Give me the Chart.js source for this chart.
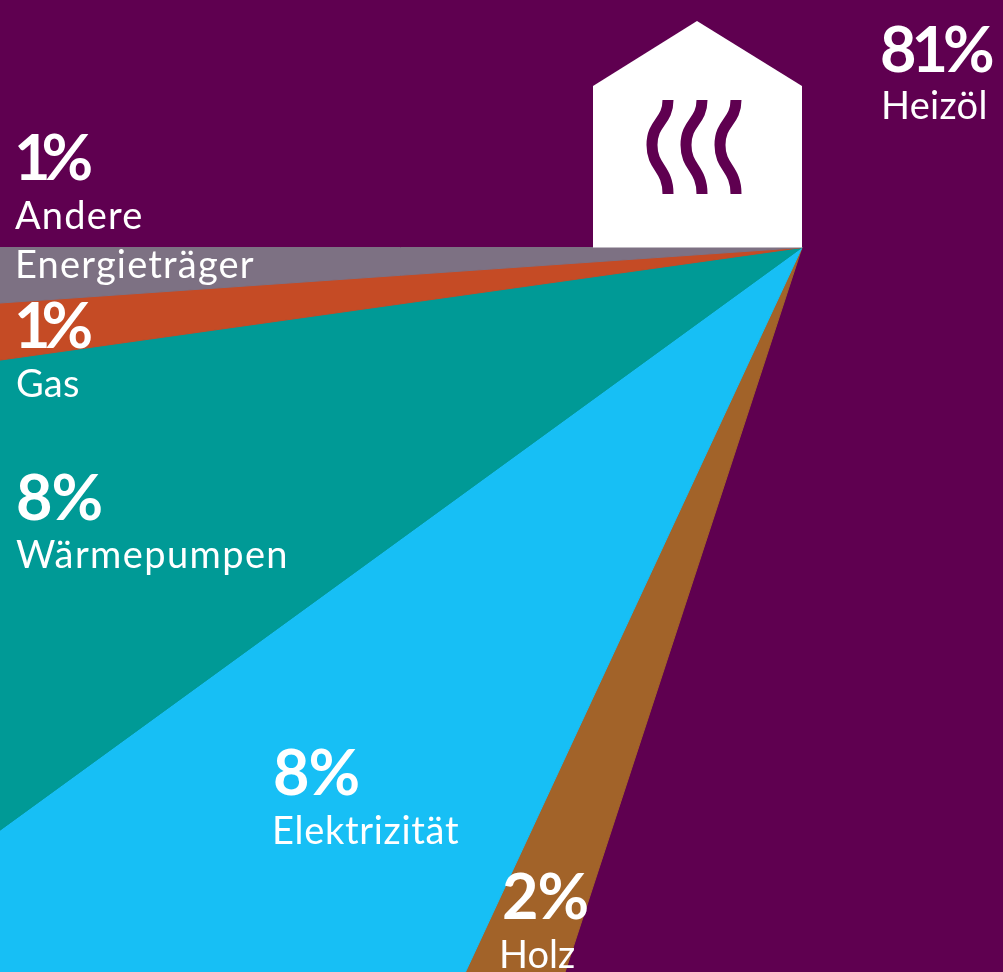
<!DOCTYPE html>
<html>
<head>
<meta charset="utf-8">
<style>
  html, body { margin: 0; padding: 0; background: #5f0050; overflow: hidden; }
  canvas { display: block; }
</style>
<script src="https://cdn.jsdelivr.net/npm/chart.js@4/dist/chart.umd.min.js"></script>
</head>
<body>
<canvas id="chart" width="1003" height="972"></canvas>
<script>
const categories = ["Heizöl", "Holz", "Elektrizität", "Wärmepumpen", "Gas", "Andere Energieträger"];
// slice shares as drawn in the picture
const shares = [80.03, 1.89, 8.08, 7.78, 1.12, 1.10];
// percentages as printed on the picture
const printed = ["81%", "2%", "8%", "8%", "1%", "1%"];
const colors = ["#5f0050", "#a26329", "#17bff5", "#009a96", "#c54b25", "#7d7183"];

// where each caption goes: number x/baseline/tracking, then one x/baseline per text line, text tracking
const captions = [
  { x: 880, y: 72, track: -5, lines: [[881, 119]], textTrack: 0.3 },
  { x: 502, y: 919, track: -1, lines: [[499, 968]], textTrack: 0 },
  { x: 273, y: 795, track: -1, lines: [[272, 844]], textTrack: 0.7 },
  { x: 16, y: 520, track: -1, lines: [[16, 568]], textTrack: 1.4 },
  { x: 14, y: 348, track: -9, lines: [[16, 397]], textTrack: 0.2 },
  { x: 14, y: 180, track: -9, lines: [[15, 229], [15, 278]], textTrack: 1.2 },
];

const house = {
  id: "house",
  afterDatasetsDraw(chart) {
    const ctx = chart.ctx;
    ctx.save();
    ctx.fillStyle = "#ffffff";
    ctx.beginPath();
    ctx.moveTo(697, 21);
    ctx.lineTo(802, 86);
    ctx.lineTo(802, 247.5);
    ctx.lineTo(593, 247.5);
    ctx.lineTo(593, 86);
    ctx.closePath();
    ctx.fill();

    ctx.strokeStyle = "#5f0050";
    ctx.lineWidth = 11;
    [0, 34, 68].forEach((dx) => {
      ctx.beginPath();
      ctx.moveTo(668 + dx, 100);
      ctx.bezierCurveTo(668 + dx, 122, 652 + dx, 122, 652 + dx, 145);
      ctx.bezierCurveTo(652 + dx, 168, 668 + dx, 168, 668 + dx, 194);
      ctx.stroke();
    });
    ctx.restore();
  },
};

const labels = {
  id: "labels",
  afterDraw(chart) {
    const ctx = chart.ctx;
    ctx.save();
    ctx.fillStyle = "#ffffff";
    ctx.textAlign = "left";
    ctx.textBaseline = "alphabetic";
    captions.forEach((c, i) => {
      ctx.font = "700 63px Lato";
      ctx.letterSpacing = c.track + "px";
      ctx.fillText(printed[i], c.x, c.y);
      ctx.font = "400 38px Lato";
      ctx.letterSpacing = c.textTrack + "px";
      const words = c.lines.length > 1 ? categories[i].split(" ") : [categories[i]];
      c.lines.forEach((l, j) => ctx.fillText(words[j], l[0], l[1]));
    });
    ctx.restore();
  },
};

new Chart(document.getElementById("chart"), {
  type: "pie",
  data: {
    labels: categories,
    datasets: [
      {
        data: shares,
        backgroundColor: colors,
        // same colour border closes the seams between slices
        borderColor: colors,
        borderWidth: 1,
        clip: false,
      },
    ],
  },
  options: {
    responsive: false,
    animation: false,
    rotation: 270,
    radius: 1300,
    // padding puts the pie centre on the house corner
    layout: { padding: { left: 601, right: 0, top: 0, bottom: 477 } },
    plugins: {
      legend: { display: false },
      tooltip: { enabled: false },
    },
  },
  plugins: [house, labels],
});
</script>
</body>
</html>
